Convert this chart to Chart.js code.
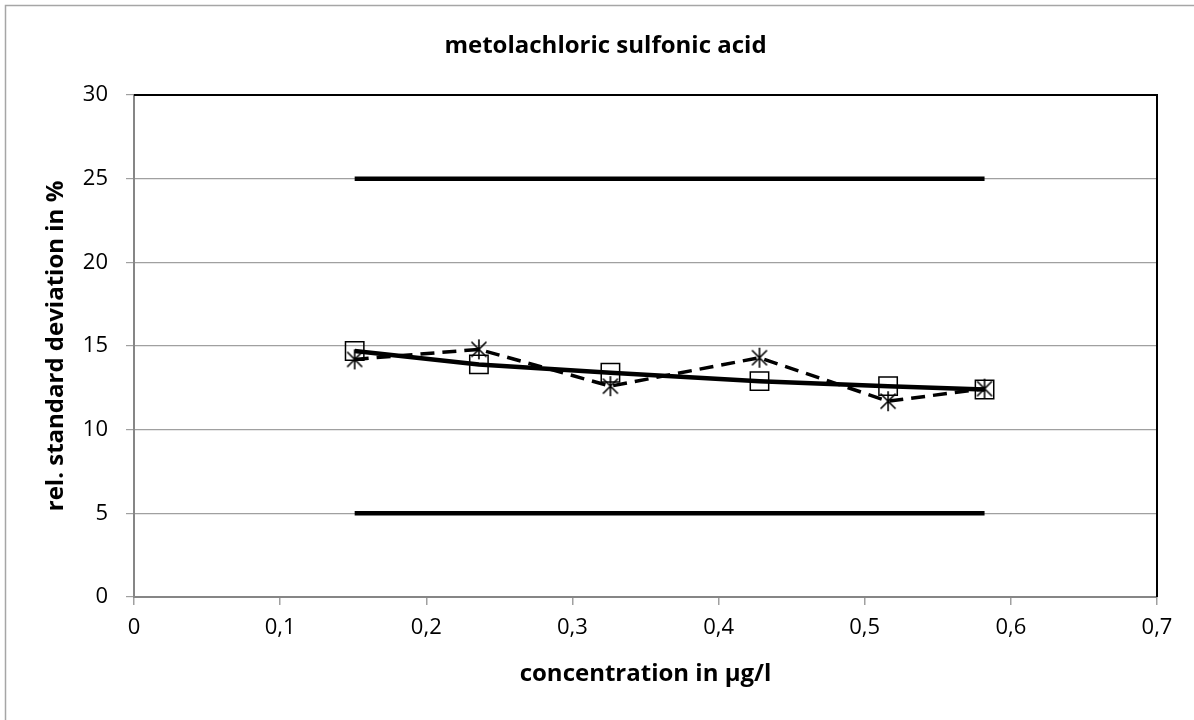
<!DOCTYPE html>
<html>
<head>
<meta charset="utf-8">
<script src="https://cdn.jsdelivr.net/npm/chart.js@4/dist/chart.umd.min.js"></script>
<style>
html,body{margin:0;padding:0;background:#fff;}
#wrap{width:1194px;height:720px;position:relative;}
</style>
</head>
<body>
<div id="wrap"><canvas id="c" width="1194" height="720"></canvas></div>
<script>
// ---- data ----
const concentration = [0.151, 0.236, 0.326, 0.428, 0.516, 0.582];
const rsdSquares = [14.7, 13.9, 13.4, 12.9, 12.6, 12.4];
const rsdStars = [14.2, 14.8, 12.6, 14.3, 11.7, 12.45];
const upperLimit = 25;
const lowerLimit = 5;
const xTicks = [0, 0.1, 0.2, 0.3, 0.4, 0.5, 0.6, 0.7];
const yTicks = [0, 5, 10, 15, 20, 25, 30];
const titleText = 'metolachloric sulfonic acid';
const xTitle = 'concentration in µg/l';
const yTitle = 'rel. standard deviation in %';

const FONT = '"Open Sans", "Noto Sans", sans-serif';

function pts(xs, ys) { return xs.map((x, i) => ({x: x, y: ys[i]})); }
const xFirst = concentration[0], xLast = concentration[concentration.length - 1];

// 6-armed asterisk marker
function makeStar(r) {
  const c = document.createElement('canvas');
  const s = Math.ceil(r * 2 + 4);
  c.width = s; c.height = s;
  const g = c.getContext('2d');
  const m = s / 2;
  g.strokeStyle = '#000'; g.lineWidth = 1.6;
  g.beginPath();
  g.moveTo(m, m - r); g.lineTo(m, m + r);
  const d = r * 0.75;
  g.moveTo(m - d, m - d); g.lineTo(m + d, m + d);
  g.moveTo(m + d, m - d); g.lineTo(m - d, m + d);
  g.stroke();
  return c;
}
const starImg = makeStar(10);

const framePlugin = {
  id: 'frame',
  afterDraw(chart) {
    const {ctx, chartArea: a} = chart;
    ctx.save();
    ctx.strokeStyle = '#000'; ctx.lineWidth = 2;
    ctx.beginPath();
    ctx.moveTo(a.left, a.top); ctx.lineTo(a.right, a.top); ctx.lineTo(a.right, a.bottom);
    ctx.stroke();
    ctx.strokeStyle = '#a6a6a6'; ctx.lineWidth = 1.5;
    ctx.beginPath();
    ctx.moveTo(5.5, 720); ctx.lineTo(5.5, 5.5); ctx.lineTo(1194, 5.5);
    ctx.stroke();
    ctx.restore();
  }
};

new Chart(document.getElementById('c'), {
  type: 'scatter',
  data: {
    datasets: [
      {
        label: 'upper', data: pts([xFirst, xLast], [upperLimit, upperLimit]),
        showLine: true, borderColor: '#000', borderWidth: 4.5, pointRadius: 0, order: 3
      },
      {
        label: 'lower', data: pts([xFirst, xLast], [lowerLimit, lowerLimit]),
        showLine: true, borderColor: '#000', borderWidth: 4.5, pointRadius: 0, order: 3
      },
      {
        label: 'stars', data: pts(concentration, rsdStars),
        showLine: true, borderColor: '#000', borderWidth: 3.5, borderDash: [14, 8],
        pointStyle: starImg, pointRadius: 10, order: 2
      },
      {
        label: 'squares', data: pts(concentration, rsdSquares),
        showLine: true, borderColor: '#000', borderWidth: 4.5,
        pointStyle: 'rect', pointRadius: 13, pointBorderWidth: 1.5,
        pointBorderColor: '#000', pointBackgroundColor: 'rgba(0,0,0,0)', order: 1
      }
    ]
  },
  options: {
    responsive: false,
    animation: false,
    layout: {padding: {left: 54, right: 37, top: 0, bottom: 0}},
    plugins: {
      legend: {display: false},
      tooltip: {enabled: false},
      title: {
        display: true, text: titleText, color: '#000',
        font: {family: FONT, size: 24, weight: 'bold'},
        padding: {top: 32, bottom: 34.2}
      }
    },
    scales: {
      x: {
        type: 'linear', min: 0, max: 0.7,
        afterBuildTicks: s => { s.ticks = xTicks.map(v => ({value: v})); },
        afterFit: s => { s.height = 123; },
        ticks: {
          color: '#000', font: {family: FONT, size: 22}, padding: 10,
          callback: v => String(v).replace('.', ',')
        },
        grid: {drawOnChartArea: false, drawTicks: true, tickLength: 8, color: '#a0a0a0', lineWidth: 1.5},
        border: {color: '#868686', width: 2},
        title: {display: true, text: xTitle, color: '#000', font: {family: FONT, size: 24, weight: 'bold'}, padding: {bottom: 31, top: 0}}
      },
      y: {
        type: 'linear', min: 0, max: 30,
        afterBuildTicks: s => { s.ticks = yTicks.map(v => ({value: v})); },
        afterFit: s => { s.width = 80; },
        ticks: {color: '#000', font: {family: FONT, size: 22}, padding: 18},
        grid: {color: '#a0a0a0', lineWidth: 1.2, tickLength: 8},
        border: {color: '#868686', width: 2},
        title: {display: true, text: yTitle, color: '#000', font: {family: FONT, size: 24, weight: 'bold'}, padding: {top: -12, bottom: 0}}
      }
    }
  },
  plugins: [framePlugin]
});
</script>
</body>
</html>
